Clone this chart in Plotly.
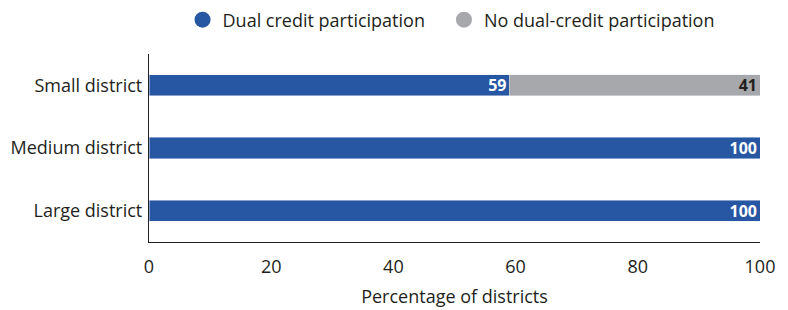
import plotly.graph_objects as go

categories = ["Small district", "Medium district", "Large district"]
dual_credit = [59, 100, 100]
no_dual_credit = [41, 0, 0]
series_names = ["Dual credit participation", "No dual-credit participation"]
x_ticks = [0, 20, 40, 60, 80, 100]

BLUE = "#2756a2"
GRAY = "#a7a8ab"
TXT = "#231f20"
FONT = "Open Sans"

fig = go.Figure()
fig.add_trace(go.Bar(
    y=categories, x=dual_credit, orientation="h", marker_color=BLUE,
    width=0.34, text=[str(v) for v in dual_credit], textposition="inside",
    insidetextanchor="end", textangle=0, constraintext="none",
    textfont=dict(family=FONT, size=16, color="white", weight="bold"),
    showlegend=False, name=series_names[0]))
fig.add_trace(go.Bar(
    y=categories, x=no_dual_credit, orientation="h", marker_color=GRAY,
    width=0.34, text=[str(v) if v else "" for v in no_dual_credit],
    textposition="inside", insidetextanchor="end", textangle=0, constraintext="none",
    textfont=dict(family=FONT, size=16, color=TXT, weight="bold"),
    showlegend=False, name=series_names[1]))
legend_labels = [series_names[0] + "\u00a0\u00a0\u00a0", series_names[1]]
for name, col in zip(legend_labels, [BLUE, GRAY]):
    fig.add_trace(go.Scatter(x=[None], y=[None], mode="markers", name=name,
                             marker=dict(symbol="circle", size=19, color=col)))

fig.update_layout(
    width=780, height=302, barmode="stack",
    margin=dict(l=141, r=28, t=46, b=68, autoexpand=False),
    paper_bgcolor="white", plot_bgcolor="white",
    font=dict(family=FONT, size=18, color=TXT),
    legend=dict(orientation="h", x=0.568, xref="container", xanchor="center",
                y=1 - 12 / 302, yref="container", yanchor="middle",
                font=dict(size=18, color=TXT), itemwidth=30, traceorder="normal"),
    xaxis=dict(range=[0, 100], tickvals=x_ticks, showgrid=False, zeroline=False,
               showline=True, linecolor=TXT, linewidth=1.2, automargin=False,
               ticks="outside", ticklen=8, tickcolor="rgba(0,0,0,0)",
               tickfont=dict(size=18, color=TXT),
               title=dict(text="Percentage of districts", font=dict(size=18, color=TXT), standoff=13)),
    yaxis=dict(categoryorder="array", categoryarray=categories[::-1],
               showgrid=False, zeroline=False, showline=True, linecolor=TXT,
               linewidth=1.2, ticks="outside", ticklen=2, tickcolor="rgba(0,0,0,0)",
               automargin=False, tickfont=dict(size=18, color=TXT)),
)
fig.write_html("out.html")
